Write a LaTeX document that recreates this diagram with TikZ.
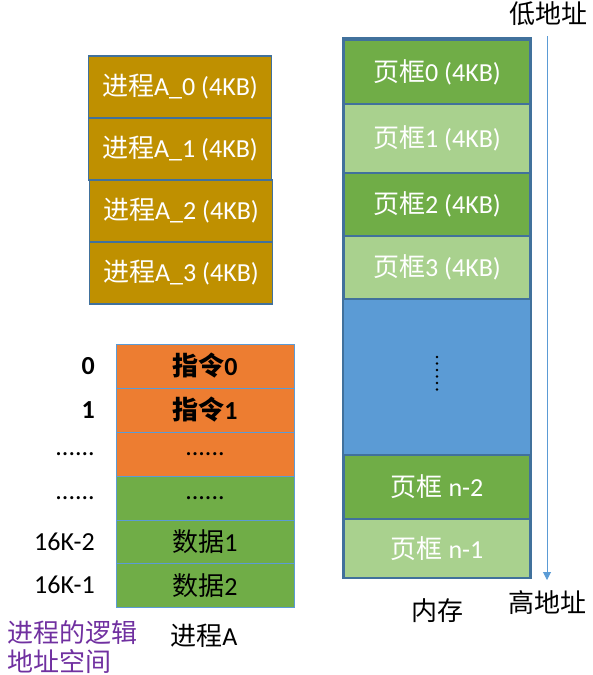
\documentclass[tikz,border=0pt]{standalone}
\usepackage{fontspec}
\setmainfont{Carlito}
\newfontfamily\cjk{Noto Sans CJK SC}
\newfontfamily\carl{Carlito}
\usetikzlibrary{arrows.meta}
\definecolor{gold}{RGB}{191,144,0}
\definecolor{edgeblue}{RGB}{65,113,156}
\definecolor{lightedge}{RGB}{91,155,213}
\definecolor{dgreen}{RGB}{112,173,71}
\definecolor{lgreen}{RGB}{169,209,142}
\definecolor{memblue}{RGB}{91,155,213}
\definecolor{orangec}{RGB}{237,125,49}
\definecolor{purplec}{RGB}{112,48,160}
\newcommand{\bigf}{\fontsize{26}{30}\selectfont}
\tikzset{
  pageA/.style={draw=edgeblue, line width=1.5pt, fill=gold, text=white, minimum width=183pt, minimum height=62pt, inner sep=0pt, font=\bigf},
  frameD/.style={draw=edgeblue, line width=1.2pt, fill=dgreen, text=white, minimum width=185pt, inner sep=0pt, font=\bigf},
  frameL/.style={frameD, fill=lgreen},
  logrow/.style={draw=lightedge, line width=1pt, minimum width=178pt, minimum height=44pt, inner sep=0pt, text=black, font=\bigf},
  addr/.style={anchor=east, inner sep=0pt, font=\bigf},
  lbl/.style={inner sep=0pt, font=\bigf\cjk},
}
\begin{document}
\begin{tikzpicture}[x=1pt,y=-1pt]
\useasboundingbox (0,0) rectangle (592,675);
% process A pages
\node[pageA] (a0) at (180,87) {{\cjk 进程}A\_0 (4KB)};
\node[pageA] (a1) at (180,149) {{\cjk 进程}A\_1 (4KB)};
\node[pageA] (a2) at (181,211) {{\cjk 进程}A\_2 (4KB)};
\node[pageA] (a3) at (181,273) {{\cjk 进程}A\_3 (4KB)};
% memory
\node[draw=edgeblue, line width=1.5pt, fill=memblue, minimum width=188pt, minimum height=540pt, inner sep=0pt] (mem) at (437,308) {};
\node[frameD, minimum height=64pt] (f0) at (437,72) {{\cjk 页框}0 (4KB)};
\node[frameL, minimum height=69pt] (f1) at (437,138.5) {{\cjk 页框}1 (4KB)};
\node[frameD, minimum height=63pt] (f2) at (437,204.5) {{\cjk 页框}2 (4KB)};
\node[frameL, minimum height=63pt] (f3) at (437,267.5) {{\cjk 页框}3 (4KB)};
\node[frameD, minimum height=64pt] (fn2) at (437,487) {{\cjk 页框} n-2};
\node[frameL, minimum height=59pt] (fn1) at (437,548.5) {{\cjk 页框} n-1};
\foreach \yy in {357,363.5,370,376.5,383,389.5}
  \fill[black] (437,\yy) circle (1.3pt);
% address arrow
\node[lbl] (low) at (548,14) {低地址};
\node[lbl] (high) at (547,603) {高地址};
\node[lbl] (memlbl) at (437,611) {内存};
\coordinate (atop) at (547,36);
\coordinate (abot) at (547,580);
\draw[lightedge, line width=1pt, -{Triangle[length=8pt,width=8pt]}] (atop) -- (abot);
% logical address space
\node[logrow, fill=orangec] (r0) at (205,366) {{\cjk\bfseries 指令}{\carl\bfseries 0}};
\node[logrow, fill=orangec] (r1) at (205,410) {{\cjk\bfseries 指令}{\carl\bfseries 1}};
\node[logrow, fill=orangec] (r2) at (205,454) {......};
\node[logrow, fill=dgreen] (r3) at (205,498) {......};
\node[logrow, fill=dgreen] (r4) at (205,542) {{\cjk 数据}1};
\node[logrow, fill=dgreen] (r5) at (205,585.5) {{\cjk 数据}2};
\node[addr] (l0) at (95,366) {{\carl\bfseries 0}};
\node[addr] (l1) at (95,410) {{\carl\bfseries 1}};
\node[addr] (l2) at (95,454) {......};
\node[addr] (l3) at (95,498) {......};
\node[addr] (l4) at (95,542) {16K-2};
\node[addr] (l5) at (95,585) {16K-1};
\node[lbl, text=purplec, align=left, anchor=west, font=\fontsize{26}{29}\selectfont\cjk] (cap) at (7,647) {进程的逻辑\\地址空间};
\node[lbl] (pa) at (204,636) {进程{\carl A}};
\end{tikzpicture}
\end{document}
